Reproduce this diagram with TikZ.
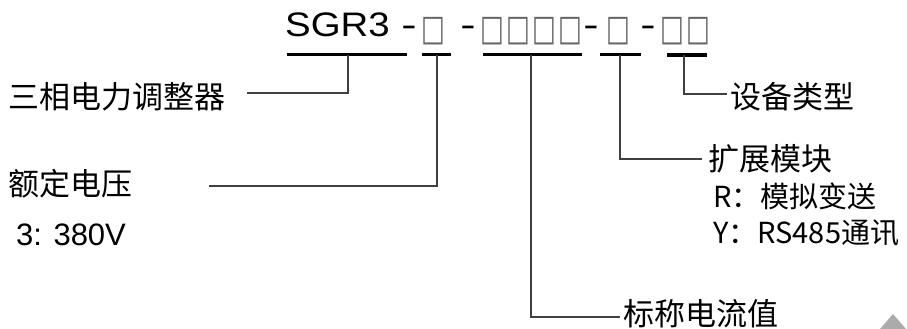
\documentclass[tikz,border=0pt]{standalone}
\usepackage{fontspec}
\setmainfont{Liberation Sans}
\newfontfamily\cjk{Noto Sans CJK SC}
\newfontfamily\symf{DejaVu Sans}
\newcommand{\mysq}{\scalebox{0.7}[1]{□}}
\begin{document}
\begin{tikzpicture}[x=1pt,y=-1pt,
  lbl/.style={font=\cjk\fontsize{31}{31}\selectfont, inner sep=0pt, anchor=base west},
  sub/.style={font=\cjk\fontsize{29}{29}\selectfont, inner sep=0pt, anchor=base west},
  latin/.style={font=\fontsize{31}{31}\selectfont, inner sep=0pt, anchor=base west},
  code/.style={font=\fontsize{34}{34}\selectfont, inner sep=0pt, anchor=base},
  sq/.style={font=\symf\fontsize{36}{36}\selectfont, inner sep=0pt, text=black!60},
  under/.style={line width=3pt, black},
  conn/.style={line width=1.2pt, black!75}]
\useasboundingbox (0,0) rectangle (907,329);

% code line
\node[code, anchor=base west] (sgr) at (285,37) {\scalebox{1.13}[1]{SGR3}};
\node[code] (d1) at (409,37) {\scalebox{1.35}[1]{-}};
\node[sq] (s1) at (433,31) {\mysq};
\node[code] (d2) at (468,37) {\scalebox{1.35}[1]{-}};
\node[sq] (s2) at (492,31) {\mysq};
\node[sq] (s3) at (518,31) {\mysq};
\node[sq] (s4) at (544,31) {\mysq};
\node[sq] (s5) at (570,31) {\mysq};
\node[code] (d3) at (591,37) {\scalebox{1.35}[1]{-}};
\node[sq] (s6) at (618,31) {\mysq};
\node[code] (d4) at (648,37) {\scalebox{1.35}[1]{-}};
\node[sq] (s7) at (672,31) {\mysq};
\node[sq] (s8) at (698,31) {\mysq};

% underlines
\coordinate (ua1) at (287,55); \coordinate (ua2) at (407,55); \coordinate (ta) at (348,55);
\coordinate (ub1) at (422,55); \coordinate (ub2) at (451,55); \coordinate (tb) at (437,55);
\coordinate (uc1) at (483,55); \coordinate (uc2) at (582,55); \coordinate (tc) at (531,55);
\coordinate (ud1) at (600,55); \coordinate (ud2) at (641,55); \coordinate (td) at (620,55);
\coordinate (ue1) at (667,55); \coordinate (ue2) at (707,55); \coordinate (te) at (684,55);
\draw[under] (ua1) -- (ua2);
\draw[under] (ub1) -- (ub2);
\draw[under] (uc1) -- (uc2);
\draw[under] (ud1) -- (ud2);
\draw[under, line width=3.6pt] (ue1) -- (ue2);

% labels
\node[lbl] (l1) at (8,108) {三相电力调整器};
\node[lbl] (l2) at (8,195) {额定电压};
\node[latin] (l2v) at (16,245) {3: 380V};
\node[lbl] (l3) at (730,108) {设备类型};
\node[lbl] (l4) at (708,170) {扩展模块};
\node[sub] (l4a) at (713,207) {R：模拟变送};
\node[sub] (l4b) at (713,243) {Y：RS485通讯};
\node[lbl] (l5) at (623,325) {标称电流值};

% connector ends
\coordinate (ea) at (247,93);
\coordinate (eb) at (209,186);
\coordinate (ec) at (620,317);
\coordinate (ed) at (702,159);
\coordinate (ee) at (727,94);

\draw[conn] (ta) |- (ea);
\draw[conn] (tb) |- (eb);
\draw[conn] (tc) |- (ec);
\draw[conn] (td) |- (ed);
\draw[conn] (te) |- (ee);

% corner mark
\fill[black!33] (880,329) -- (893,314) -- (906,329) -- cycle;
\end{tikzpicture}
\end{document}
